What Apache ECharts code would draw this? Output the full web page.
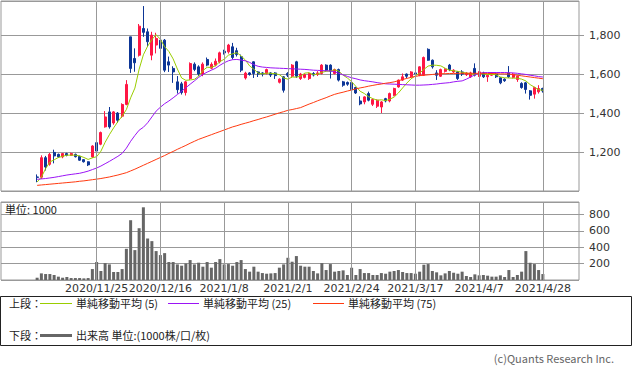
<!DOCTYPE html>
<html><head><meta charset="utf-8">
<script src="https://cdn.jsdelivr.net/npm/echarts@6/dist/echarts.min.js"></script>
<style>html,body{margin:0;padding:0;background:#fff}#c{width:633px;height:371px}</style>
</head><body><div id="c"></div>
<script>
// ---- data ----
const dates = [
'2020/11/4','2020/11/5','2020/11/6','2020/11/9','2020/11/10','2020/11/11','2020/11/12','2020/11/13','2020/11/16','2020/11/17','2020/11/18','2020/11/19','2020/11/20','2020/11/24','2020/11/25','2020/11/26','2020/11/27','2020/11/30',
'2020/12/1','2020/12/2','2020/12/3','2020/12/4','2020/12/7','2020/12/8','2020/12/9','2020/12/10','2020/12/11','2020/12/14','2020/12/15','2020/12/16','2020/12/17','2020/12/18','2020/12/21','2020/12/22','2020/12/23','2020/12/24','2020/12/25','2020/12/28','2020/12/29','2020/12/30',
'2021/1/4','2021/1/5','2021/1/6','2021/1/7','2021/1/8','2021/1/12','2021/1/13','2021/1/14','2021/1/15','2021/1/18','2021/1/19','2021/1/20','2021/1/21','2021/1/22','2021/1/25','2021/1/26','2021/1/27','2021/1/28','2021/1/29',
'2021/2/1','2021/2/2','2021/2/3','2021/2/4','2021/2/5','2021/2/8','2021/2/9','2021/2/10','2021/2/12','2021/2/15','2021/2/16','2021/2/17','2021/2/18','2021/2/19','2021/2/22','2021/2/24','2021/2/25','2021/2/26',
'2021/3/1','2021/3/2','2021/3/3','2021/3/4','2021/3/5','2021/3/8','2021/3/9','2021/3/10','2021/3/11','2021/3/12','2021/3/15','2021/3/16','2021/3/17','2021/3/18','2021/3/19','2021/3/22','2021/3/23','2021/3/24','2021/3/25','2021/3/26','2021/3/29','2021/3/30','2021/3/31',
'2021/4/1','2021/4/2','2021/4/5','2021/4/6','2021/4/7','2021/4/8','2021/4/9','2021/4/12','2021/4/13','2021/4/14','2021/4/15','2021/4/16','2021/4/19','2021/4/20','2021/4/21','2021/4/22','2021/4/23','2021/4/26','2021/4/27','2021/4/28'];

const tickLabels = ['2020/11/25','2020/12/16','2021/1/8','2021/2/1','2021/2/24','2021/3/17','2021/4/7','2021/4/28'];

// [open, close, low, high]
const candles = [
[1072,1070,1045,1085],[1071,1171,1062,1183],[1171,1123,1105,1180],[1137,1188,1130,1195],[1198,1180,1142,1212],
[1188,1175,1170,1192],[1175,1192,1168,1195],[1192,1183,1178,1196],[1183,1192,1180,1197],[1188,1176,1172,1192],
[1178,1158,1155,1181],[1161,1150,1146,1163],[1150,1134,1128,1152],[1175,1231,1170,1235],[1248,1205,1195,1298],
[1240,1300,1235,1305],[1329,1380,1325,1410],[1406,1329,1320,1431],[1349,1406,1340,1410],[1400,1363,1350,1405],
[1384,1444,1375,1450],[1444,1547,1440,1569],[1791,1629,1606,1791],[1680,1658,1612,1732],[1697,1846,1690,1857],
[1834,1814,1791,1949],[1817,1766,1740,1834],[1697,1800,1671,1817],[1749,1783,1706,1812],[1774,1732,1720,1790],
[1774,1620,1610,1780],[1663,1646,1611,1690],[1629,1611,1555,1640],[1560,1520,1500,1590],[1550,1505,1495,1560],
[1505,1560,1490,1565],[1577,1654,1570,1660],[1651,1624,1615,1660],[1637,1600,1590,1645],[1600,1651,1589,1660],
[1675,1646,1640,1685],[1630,1650,1625,1660],[1646,1666,1640,1680],[1663,1709,1655,1715],[1717,1709,1700,1725],
[1714,1749,1705,1755],[1740,1685,1675,1760],[1720,1700,1690,1735],[1689,1620,1610,1700],[1580,1605,1572,1612],
[1606,1598,1592,1610],[1663,1603,1580,1665],[1611,1600,1585,1615],[1606,1600,1588,1610],[1603,1623,1598,1628],
[1606,1595,1585,1610],[1606,1592,1575,1610],[1558,1574,1552,1578],[1586,1517,1505,1590],[1603,1594,1585,1610],
[1589,1646,1580,1651],[1663,1589,1580,1668],[1577,1600,1570,1606],[1583,1597,1578,1603],[1577,1603,1570,1608],
[1603,1595,1588,1610],[1598,1606,1590,1615],[1603,1646,1598,1651],[1646,1620,1615,1650],[1646,1615,1577,1650],
[1603,1623,1598,1628],[1623,1569,1562,1628],[1560,1543,1535,1565],[1557,1548,1540,1562],[1557,1520,1515,1562],
[1531,1503,1498,1535],[1462,1447,1440,1486],[1457,1483,1445,1486],[1500,1466,1460,1510],[1445,1469,1436,1475],
[1435,1466,1426,1470],[1431,1457,1400,1462],[1474,1462,1455,1478],[1462,1500,1455,1505],[1491,1526,1486,1530],
[1534,1569,1530,1572],[1569,1586,1565,1603],[1600,1589,1580,1603],[1586,1611,1580,1615],[1606,1600,1595,1612],
[1594,1637,1589,1640],[1594,1685,1590,1690],[1727,1671,1668,1732],[1671,1637,1628,1675],[1606,1594,1570,1620],
[1589,1623,1585,1628],[1614,1625,1608,1630],[1646,1623,1615,1652],[1611,1620,1606,1625],[1611,1577,1570,1615],
[1611,1600,1590,1620],[1597,1605,1590,1610],[1586,1606,1580,1612],[1629,1594,1588,1655],[1589,1611,1585,1615],
[1606,1586,1580,1612],[1586,1594,1560,1598],[1594,1606,1590,1610],[1600,1586,1580,1605],[1581,1555,1548,1585],
[1574,1566,1560,1578],[1606,1586,1580,1641],[1583,1600,1578,1605],[1572,1589,1560,1592],[1552,1531,1525,1558],
[1555,1521,1500,1560],[1514,1491,1469,1518],[1497,1531,1474,1535],[1509,1526,1500,1543],[1526,1514,1505,1530]];

const ma5 = [
1046,1071,1115,1149,1160,1172,1178,1184,1184,1184,
1180,1172,1162,1170,1176,1204,1250,1289,1324,1356,
1384,1418,1478,1528,1625,1699,1743,1777,1802,1779,
1740,1716,1678,1626,1580,1568,1570,1573,1589,1618,
1635,1634,1643,1664,1676,1697,1704,1710,1693,1672,
1642,1625,1605,1601,1605,1604,1602,1597,1580,1574,
1585,1584,1589,1605,1607,1597,1600,1609,1614,1616,
1622,1615,1594,1580,1561,1537,1512,1500,1484,1474,
1466,1468,1464,1471,1482,1503,1529,1554,1576,1591,
1605,1624,1641,1646,1645,1642,1630,1620,1617,1614,
1609,1605,1602,1596,1603,1600,1598,1598,1597,1585,
1581,1580,1579,1579,1574,1565,1546,1533,1520,1517];

const ma25 = [
1060,1062,1064,1067,1070,1074,1078,1082,1085,1088,
1091,1096,1102,1110,1118,1128,1140,1152,1165,1178,
1193,1220,1255,1285,1312,1327,1350,1380,1410,1430,
1448,1462,1478,1495,1512,1530,1548,1565,1583,1598,
1610,1620,1630,1645,1658,1668,1674,1675,1672,1668,
1660,1648,1640,1636,1634,1632,1631,1630,1629,1628,
1627,1626,1625,1624,1622,1620,1619,1618,1617,1616,
1612,1604,1596,1588,1581,1576,1570,1566,1563,1560,
1556,1553,1550,1549,1548,1547,1546,1545,1544,1543,
1543,1544,1545,1547,1549,1552,1554,1556,1560,1563,
1565,1574,1585,1596,1604,1607,1608,1608,1608,1608,
1608,1607,1606,1604,1601,1598,1594,1591,1587,1585];

const ma75 = [
1029,1031,1033,1035,1037,1039,1041,1043,1045,1047,
1050,1052,1055,1058,1061,1064,1068,1072,1077,1082,
1088,1094,1103,1112,1122,1132,1142,1152,1162,1172,
1182,1193,1203,1214,1224,1234,1245,1255,1265,1273,
1281,1289,1297,1305,1313,1321,1329,1335,1342,1348,
1354,1361,1367,1374,1380,1387,1394,1401,1407,1414,
1418,1423,1428,1437,1446,1454,1463,1471,1479,1488,
1496,1502,1507,1513,1518,1524,1529,1533,1538,1542,
1546,1549,1553,1556,1560,1566,1572,1578,1583,1588,
1592,1594,1596,1598,1600,1602,1602,1603,1603,1604,
1604,1604,1604,1604,1604,1604,1603,1603,1602,1601,
1601,1600,1597,1594,1591,1588,1585,1582,1579,1576];

const volume = [
28,81,73,73,61,41,28,37,24,24,
24,20,24,134,220,110,207,191,98,98,
134,382,732,366,634,890,508,476,354,305,
329,220,220,191,175,203,244,191,212,163,
220,151,220,256,191,195,175,220,244,134,
102,163,102,85,77,81,85,151,191,272,
224,293,175,163,163,110,81,207,122,195,
102,110,118,61,150,61,134,85,85,61,
61,85,77,102,110,122,98,85,85,77,
102,187,195,110,94,57,81,110,89,77,
102,49,37,69,57,61,53,41,41,57,
37,122,37,61,102,354,211,195,122,73];

const priceTicks = {min:1000, max:1975, interval:200};
const volTicks = {min:0, max:955, interval:200};

// ---- build ----
const PAD = 8;
const cats = [];
for (let i=0;i<PAD;i++) cats.push('_l'+i);
dates.forEach(d=>cats.push(d));
for (let i=0;i<PAD;i++) cats.push('_r'+i);
const labelSet = new Set(tickLabels);

const candleData = candles.map((c,i)=>[i+PAD, c[0], c[1], c[2], c[3]]);
const lineData = arr => arr.map((v,i)=>[i+PAD, v]);
const volData = volume.map((v,i)=>[i+PAD, v]);

const FONT = '"DejaVu Sans", "Noto Sans CJK JP", sans-serif';
const JFONT = '"Noto Sans CJK JP", "Noto Sans", sans-serif';
const GRID_C = '#999';

const vLines = {
  silent:true, symbol:['none','none'], animation:false,
  label:{show:false},
  lineStyle:{color:GRID_C, width:1, type:'solid'},
  emphasis:{disabled:true},
  data: tickLabels.map(t=>({xAxis:t}))
};

const chart = echarts.init(document.getElementById('c'), null, {renderer:'svg', width:633, height:371});
chart.setOption({
  animation:false,
  backgroundColor:'#fff',
  grid:[
    {left:1, top:1, width:578, height:190, show:true, borderColor:GRID_C, borderWidth:1},
    {left:1, top:202, width:578, height:78, show:true, borderColor:GRID_C, borderWidth:1}
  ],
  xAxis:[
    {type:'category', gridIndex:0, data:cats, boundaryGap:true,
     axisLine:{show:false}, axisTick:{show:false}, axisLabel:{show:false}, splitLine:{show:false}},
    {type:'category', gridIndex:1, data:cats, boundaryGap:true,
     axisLine:{show:false}, axisTick:{show:false}, splitLine:{show:false},
     axisLabel:{show:true, interval:(idx,val)=>labelSet.has(val), margin:3,
       fontSize:11, fontFamily:FONT, color:'#333'}}
  ],
  yAxis:[
    {type:'value', gridIndex:0, position:'right', min:priceTicks.min, max:priceTicks.max, interval:priceTicks.interval,
     axisLine:{show:false}, axisTick:{show:true, length:5, lineStyle:{color:GRID_C}},
     splitLine:{show:true, lineStyle:{color:GRID_C, width:1}},
     axisLabel:{show:true, margin:10, fontSize:11, fontFamily:FONT, color:'#333', showMinLabel:false, showMaxLabel:false,
       formatter:v=>v.toLocaleString('en-US')}},
    {type:'value', gridIndex:1, position:'right', min:volTicks.min, max:volTicks.max, interval:volTicks.interval,
     axisLine:{show:false}, axisTick:{show:true, length:5, lineStyle:{color:GRID_C}},
     splitLine:{show:true, lineStyle:{color:GRID_C, width:1}},
     axisLabel:{show:true, margin:10, fontSize:11, fontFamily:FONT, color:'#333', showMinLabel:false, showMaxLabel:false}}
  ],
  series:[
    {type:'candlestick', name:'price', xAxisIndex:0, yAxisIndex:0, data:candleData,
     encode:{x:0, y:[1,2,3,4]}, barWidth:2.4,
     itemStyle:{color:'#ff1744', color0:'#0d3696', borderColor:'#ff1744', borderColor0:'#0d3696', borderWidth:1},
     markLine:vLines, z:3},
    {type:'line', name:'単純移動平均 (5)', xAxisIndex:0, yAxisIndex:0, data:lineData(ma5), symbol:'none',
     lineStyle:{color:'#9acd00', width:1}, z:4},
    {type:'line', name:'単純移動平均 (25)', xAxisIndex:0, yAxisIndex:0, data:lineData(ma25), symbol:'none',
     lineStyle:{color:'#9b14f5', width:1}, z:4},
    {type:'line', name:'単純移動平均 (75)', xAxisIndex:0, yAxisIndex:0, data:lineData(ma75), symbol:'none',
     lineStyle:{color:'#ff3a10', width:1}, z:4},
    {type:'bar', name:'出来高', xAxisIndex:1, yAxisIndex:1, data:volData, barWidth:3,
     itemStyle:{color:'#666'}, markLine:vLines, z:3}
  ],
  graphic:[
    {type:'text', x:5, y:209, z:10, style:{text:'単位: 1000', font:'11px '+JFONT, fill:'#222', verticalAlign:'middle'}},
    {type:'rect', shape:{x:0.5, y:296.5, width:631, height:49}, style:{fill:'none', stroke:'#222', lineWidth:1}},
    {type:'text', x:9, y:303, style:{text:'上段：', font:'11px '+JFONT, fill:'#222', verticalAlign:'middle'}},
    {type:'line', shape:{x1:40, y1:303.5, x2:72, y2:303.5}, style:{stroke:'#9acd00', lineWidth:1}},
    {type:'text', x:76, y:303, style:{text:'単純移動平均 (5)', font:'11px '+JFONT, fill:'#222', verticalAlign:'middle'}},
    {type:'line', shape:{x1:168, y1:303.5, x2:199, y2:303.5}, style:{stroke:'#9b14f5', lineWidth:1}},
    {type:'text', x:203, y:303, style:{text:'単純移動平均 (25)', font:'11px '+JFONT, fill:'#222', verticalAlign:'middle'}},
    {type:'line', shape:{x1:313, y1:303.5, x2:344, y2:303.5}, style:{stroke:'#ff3a10', lineWidth:1}},
    {type:'text', x:348, y:303, style:{text:'単純移動平均 (75)', font:'11px '+JFONT, fill:'#222', verticalAlign:'middle'}},
    {type:'text', x:9, y:335, style:{text:'下段：', font:'11px '+JFONT, fill:'#222', verticalAlign:'middle'}},
    {type:'line', shape:{x1:40, y1:335.5, x2:72, y2:335.5}, style:{stroke:'#666', lineWidth:3}},
    {type:'text', x:76, y:335, style:{text:'出来高 単位:(1000株/口/枚)', font:'11px '+JFONT, fill:'#222', verticalAlign:'middle'}},
    {type:'text', x:614, y:358, style:{text:'(c)Quants Research Inc.', font:'11px '+JFONT, fill:'#666', align:'right', verticalAlign:'middle'}}
  ]
});
</script>
</body></html>
